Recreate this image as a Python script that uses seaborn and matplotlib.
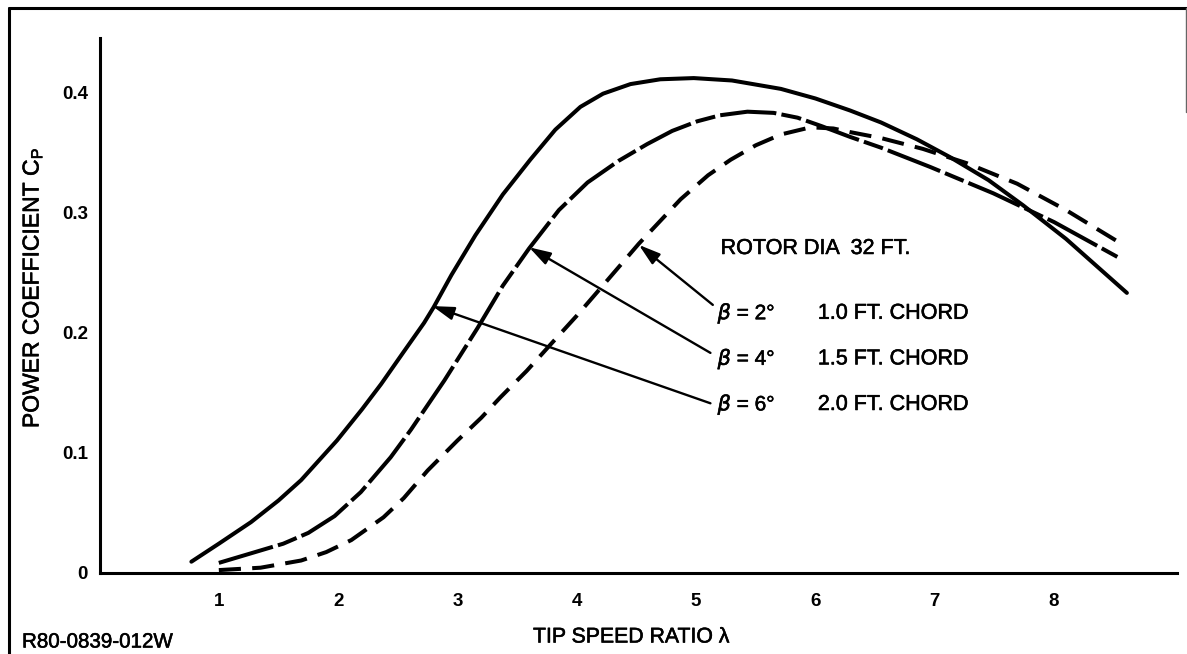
import matplotlib
matplotlib.use("Agg")
import matplotlib.pyplot as plt
from matplotlib.lines import Line2D
import matplotlib.patheffects as pe
import seaborn as sns
import pandas as pd

# ---------------- data ----------------
x_b6 = [0.77, 1.00, 1.27, 1.50, 1.69, 1.99, 2.20, 2.36, 2.55, 2.72, 2.80, 2.95, 3.15, 3.38, 3.61, 3.82, 4.03, 4.22, 4.45, 4.70, 4.98, 5.30, 5.71, 6.00, 6.29, 6.55, 6.85, 7.13, 7.45, 7.74, 8.10, 8.61]
y_b6 = [0.009, 0.024, 0.042, 0.060, 0.077, 0.110, 0.136, 0.157, 0.184, 0.208, 0.221, 0.248, 0.281, 0.315, 0.344, 0.369, 0.388, 0.399, 0.407, 0.411, 0.412, 0.410, 0.403, 0.395, 0.385, 0.375, 0.361, 0.346, 0.327, 0.306, 0.278, 0.233]

x_b4 = [1.00, 1.27, 1.54, 1.75, 1.97, 2.19, 2.44, 2.61, 2.89, 3.17, 3.38, 3.60, 3.85, 4.09, 4.35, 4.59, 4.80, 5.01, 5.20, 5.43, 5.65, 5.85, 6.05, 6.29, 6.55, 6.96, 7.49, 8.00, 8.53]
y_b4 = [0.008, 0.016, 0.024, 0.033, 0.047, 0.067, 0.096, 0.119, 0.160, 0.204, 0.239, 0.270, 0.302, 0.325, 0.343, 0.357, 0.368, 0.376, 0.381, 0.384, 0.383, 0.379, 0.372, 0.363, 0.354, 0.338, 0.316, 0.292, 0.263]

x_b2 = [1.00, 1.35, 1.69, 1.90, 2.11, 2.38, 2.55, 2.75, 3.00, 3.20, 3.36, 3.58, 3.78, 4.00, 4.20, 4.52, 4.87, 5.10, 5.29, 5.50, 5.71, 5.96, 6.15, 6.29, 6.55, 6.90, 7.27, 7.69, 8.10, 8.53]
y_b2 = [0.002, 0.004, 0.010, 0.017, 0.027, 0.046, 0.062, 0.085, 0.110, 0.129, 0.146, 0.168, 0.190, 0.214, 0.237, 0.274, 0.311, 0.331, 0.344, 0.356, 0.365, 0.371, 0.370, 0.367, 0.362, 0.353, 0.341, 0.324, 0.302, 0.276]

x_ticks = [1, 2, 3, 4, 5, 6, 7, 8]
y_ticks = [0, 0.1, 0.2, 0.3, 0.4]
y_tick_labels = ["0", "0.1", "0.2", "0.3", "0.4"]

beta_labels = [r"$\beta$ = 2°", r"$\beta$ = 4°", r"$\beta$ = 6°"]
chord_labels = ["1.0 FT. CHORD", "1.5 FT. CHORD", "2.0 FT. CHORD"]
label_y = [0.216, 0.178, 0.140]
arrow_tail = [(5.14, 0.223), (5.12, 0.183), (5.12, 0.141)]
arrow_tip = [(4.52, 0.273), (3.60, 0.271), (2.79, 0.222)]

# ---------------- style ----------------
sns.set_theme(style="white")
plt.rcParams["font.family"] = ["Liberation Sans", "DejaVu Sans"]
plt.rcParams["mathtext.fontset"] = "dejavusans"

W, H = 1187, 654
fig = plt.figure(figsize=(W / 100, H / 100), dpi=100)
ax = fig.add_axes([99.5 / W, 1 - 572.5 / H, (1177 - 99.5) / W, (572.5 - 38) / H])

lw = 2.9
df6 = pd.DataFrame({"x": x_b6, "y": y_b6})
df4 = pd.DataFrame({"x": x_b4, "y": y_b4})
df2 = pd.DataFrame({"x": x_b2, "y": y_b2})
sns.lineplot(data=df6, x="x", y="y", ax=ax, color="black", linewidth=lw,
             solid_capstyle="round", solid_joinstyle="round")
sns.lineplot(data=df4, x="x", y="y", ax=ax, color="black", linewidth=lw,
             linestyle=(0, (14, 1.3, 5, 1.3)), dash_joinstyle="round")
sns.lineplot(data=df2, x="x", y="y", ax=ax, color="black", linewidth=lw,
             linestyle=(0, (5.5, 2.8)), dash_joinstyle="round")

ax.set_xlim(0, 9.03)
ax.set_ylim(0, 0.4454)
ax.set_xticks(x_ticks)
ax.set_xticklabels([str(v) for v in x_ticks])
ax.set_yticks(y_ticks)
ax.set_yticklabels(y_tick_labels)
ax.set_xlabel("")
ax.set_ylabel("")
for s in ["top", "right"]:
    ax.spines[s].set_visible(False)
for s in ["left", "bottom"]:
    ax.spines[s].set_linewidth(2.2)
    ax.spines[s].set_color("black")
ax.tick_params(axis="x", direction="in", length=8.6, width=2, pad=14.5,
               labelsize=13.5, colors="black")
ax.tick_params(axis="y", direction="in", length=7.2, width=2, pad=8.3,
               labelsize=13.5, colors="black")
for t in ax.get_xticklabels() + ax.get_yticklabels():
    t.set_fontweight("bold")

thick = [pe.withStroke(linewidth=0.4, foreground="black")]

# annotations
for lab, ch, ly, tail, tip in zip(beta_labels, chord_labels, label_y, arrow_tail, arrow_tip):
    ax.annotate("", xy=tip, xytext=tail,
                arrowprops=dict(arrowstyle="-|>,head_length=0.65,head_width=0.2",
                                mutation_scale=20, lw=1.7, color="black",
                                shrinkA=0, shrinkB=0))
    ax.text(5.18, ly, lab, ha="left", va="center", fontsize=15, color="black",
            path_effects=thick)
    ax.text(6.02, ly, ch, ha="left", va="center", fontsize=15.5, color="black",
            path_effects=thick)
ax.text(5.205, 0.270, "ROTOR DIA  32 FT.", ha="left", va="center", fontsize=15.5,
        color="black", path_effects=thick)

# axis titles and figure labels
fig.text(32 / W, 1 - 288 / H, r"POWER COEFFICIENT C$_\mathregular{P}$", rotation=90,
         ha="center", va="center", fontsize=16.5, color="black", path_effects=thick)
fig.text(631 / W, 1 - 637 / H, "TIP SPEED RATIO λ", ha="center", va="center",
         fontsize=15.3, color="black", path_effects=thick)
fig.text(22 / W, 1 - 642 / H, "R80-0839-012W", ha="left", va="center",
         fontsize=14.8, color="black", path_effects=thick)

# page frame
fig.add_artist(Line2D([9 / W, 9 / W], [0, 1 - 8 / H], transform=fig.transFigure,
                      color="black", lw=2.2))
fig.add_artist(Line2D([9 / W, 1], [1 - 8 / H, 1 - 8 / H], transform=fig.transFigure,
                      color="black", lw=2.2))
fig.add_artist(Line2D([1185.5 / W, 1185.5 / W], [1 - 8 / H, 1 - 112 / H],
                      transform=fig.transFigure, color="0.4", lw=1.0))

fig.savefig("out.png", dpi=100, facecolor="white")
